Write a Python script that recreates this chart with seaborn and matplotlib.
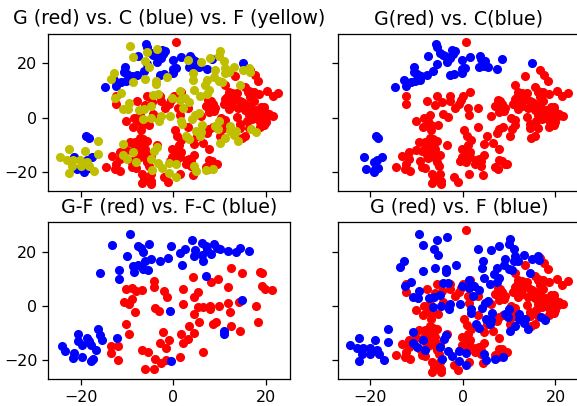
import matplotlib
matplotlib.use("Agg")
import matplotlib.pyplot as plt
import pandas as pd
import seaborn as sns

# G group
g_x = [0.6, 16.6, 17.6, 18.3, 13.4, 11.3, 15.6, 20.3, 22.7, 21.5, 12, 12.7, 11.7, 13.5, 14.5, 10.9, 12, 12.7,
       16.3, 17.4, 18.5, 16.7, 17.4, 15.6, 16.7, 16, 17.1, 18.1, 19.6, 19.9, 21.6, 20.5, 19.6, 18.8, 19.7, 18.7,
       16.3, 13.8, 14.5, 14.5, 10.4, 11.3, 11.3, 10.6, 10.2, 15.5, 14.8, 16.3, 17.7,
       8.1, 7, 8.1, 8.8, 7.7, 6.1, 8.6, 7.7, 7.3, 3.2, 3.2, 1.1, 1.4, 1.6, 0.1, -0.4, -0.9, -1.8, -2.9, -2.7, -4.5,
       -5.6, -6.1, -7.8, -12.3, -12.4, -4.4, -3.2, -7.1, -8.5, -10.1, -7.6, -8.7, -6.8, -5.3, -7,
       -7.1, -9.4, -8.2, -5.6, -6.7, -8.3, -10.1, -11.6, -7.2, -6.3, -7.8, -3.5, -4.9, -13.2, -11.6, -9.2, -5.6,
       -5.2, -12.3, -14.5, -12.6, -11.4, -8.8, -8.1, -4.9, -6.7, -6.3, -6.7, -4.7, -4.7, -2, -1.1,
       0.3, 0.9, 1.7, 1.2, -0.2, 0.9, 1.6, -0.2, -0.7, 0.9, 0.6, 1.4, 2.7, 3.9, 3.4, 4.5, 4.3, 5.2, 4.6, 6.4, 7.8,
       7, 7.5, 7.7, 8.4, 9.1, 9.5,
       11.3, 12.4, 13.8, 14.9, 15.6, 14.1, 18, 19, 18.5, 20.8, 20, 17, 15.9, 16.9, 16.2,
       -8, -7, -6.5, -8.8, -7.5, -6, -5.9, 8.5, 9, 7.5, 0.5, 1.5, 0, 2.9, 3.9]
g_y = [27.9, 17.6, 15.9, 13.7, 15.2, 12.2, 11.2, 10, 9.1, 7.9, 9.4, 9.1, 7.6, 7, 6.3, 5.1, 3.3, 4.5,
       10, 9.4, 8.8, 7.6, 6.3, 5.1, 4.5, 2.7, 2.1, 1.5, 3.9, 2.1, 0.7, 0.5, -0.4, -1.6, -2.6, -3.4,
       -3.7, 0.2, -2.2, -3.7, 0, -0.7, -2.8, -4, -6.5, -6.5, -7.3, 0.9, 0,
       6.3, 4.5, 3.7, 2.7, 2.1, 0.6, -3.4, -4, -5.5, -3.4, 3.7, 3.7, 1.2, 9.5, 8.2, 6.6, 5.1, 3.7, 8.2, 6.1, 5.7,
       8.2, 4.9, 6.3, 8.2, 5.1, 1.5, 0.2, 0.9, 0, -1.3, -1, -3.2, -2.8, -2.8, -4.6,
       -7.3, -8.9, -8.9, -8.5, -9.5, -11, -11.7, -12.6, -12, -13.2, -13.8, -10.1, -13.8, -13.9, -15, -15.9, -16.2,
       -17.8, -16.8, -18, -18.7, -19.5, -18, -18.4, -20.7, -20.5, -22.3, -24.1, -23.2, -24.4, -21.7, -23.5,
       -4.6, -6.8, -8.3, -10.1, -11.3, -12, -12.6, -14.4, -16, -14.1, -16.2, -20.5, -16.8, -17.7, -15, -13.5,
       -21.1, -6.6, -9.5, -9.3, -11.6, -18, -18.9, -15.6, -15.9, -17.1, -16.8,
       7, 6, 9, 6, 3, 3.5, 3, 4, 0.3, 1.5, -1.5, -0.5, -1.3, 8, 9.5,
       -10, -11, -7.9, -12, -14.7, -11.5, -15, 5.2, 3.8, 6.5, -13, -14.5, -15.5, -15.5, -16]

# C group
c_x = [-5.8, -5.6, -4.9, -4.4, -3.8, -7.6, -2.4, -1.8, -2.2, -2.7, -3.5, -5.6, -0.1, 1.6, 3.7, 4, 4.8, 3.4, 4.5,
       5.5, 7.3, 8.4, 15, -10.5, -10.6, -6.4, 0.5, -0.1, -0.1, -2, -2.9, -7.8, -9, -9.9, -9.2, -10.3, -11.2, -12.8,
       -12.4, -14.7, -18.9, -18.3, -21.4, -17.6, -18.6, -19.3, -18.3, -19.3, -20.9, -19.1]
c_y = [27.1, 26.1, 24, 23, 22.8, 22.8, 24.9, 24.4, 23.4, 22, 20.4, 19.8, 21.3, 22.2, 22.8, 21.6, 21, 18.8, 19.1,
       18.5, 17.9, 21.6, 20.1, 18.5, 16.7, 17.3, 18.3, 17.9, 16.3, 16.1, 15.7, 15.7, 15.5, 16.1, 13.9, 13.7, 13,
       13.9, 11.8, 11.2, -6.8, -7.3, -14.4, -14.4, -15.4, -16.2, -18.4, -19.9, -18.9, -18.7]

# F group
f_x = [-9.4, -8.6, -5.7, -3.5, -6.2, -5.3, -12.7, -13.5, -8.6, -6.1, -3.7, -3.7, -1.4, 3.3, 6, 7.9, 9.9, 10.1, 11,
       9, 11.3, 11.1, 12, 13.1, 15, 16.3, 16.5, 4.3, 4.2, 7.3, 8.8, 9.9, 10.6, 14.5, 6.8, 4.6, 7.7, 7.3, 5.9, 1.4,
       -0.2, 1.4, 2.5, 3.4, 2.1, -4.3, -3.3, -11.2, -12.6, -9.6, -10.8, -9.7, -7.3, -6.3, -4.9, -6.5, -4.7, -2.7,
       -3.1, -0.7, 1.7, 1.8, 5.5, 4.8, 4.1, 6.3, 10, 9.1, 9.7, 5, 6.1, 5.9, 12.2, 12.2, 13.5, 13.1, 16.8, 17.8, 14,
       11.3, 10.1, 2.8, 3.4, -10.8, -16.3, -3.6, -4.2, -8.6, -16.2, -19.1, -22.5, -24.5, -22.9, -21.6, -20.1, -20,
       -18.6, -18.1, -17.1, -21.9, -22.5, -10.9, -9.9, -8.1, -4.9, -3.2, -4.5, -2.4, -0.8, 0.6, -0.9, 0.7, 4.5, 5,
       7, 8.6]
f_y = [26.5, 22.5, 24.3, 25.2, 21, 18.6, 16.4, 14.2, 13, 14.1, 13.7, 12.5, 14.9, 21.1, 20.5, 22.1, 22.9, 24.7, 20.9,
       17.4, 18.2, 16.5, 16.7, 18.8, 17.4, 18.2, 17, 16.5, 13.9, 13.9, 14.9, 13.7, 13.1, 12.2, 11.9, 10.3, 10.4,
       8.8, 8.2, 9.7, 7.3, 6.6, 7.3, 6, 3.7, 8.4, 8.6, 9, 7.3, 5.5, 3.3, 3.1, 2.9, 3.3, 4.2, -0.4, -0.1, 0.6, -1.1,
       0.6, -1, -2.4, 1.8, 1.2, -0.6, -2.6, -1.2, -3.1, -4, -4.9, -5.3, -6.5, -3.1, -4.9, -4.9, -6.2, -4, -5.3, -8.6,
       -7.5, -9.3, -6.5, -7.9, -9.5, -8.4, -10.8, -12, -12.6, -13.3, -12.3, -11.6, -14.4, -15.4, -15.3, -15.4,
       -17.7, -16.3, -17.8, -19.7, -17.8, -20.3, -13.6, -15, -16.3, -15, -16.6, -19.3, -18.5, -16.6, -17.1, -20.3,
       -21.8, -17.8, -19.7, -19.3, -18.9]

# G-F difference
gf_x = [12.4, 14.8, 18.8, 19.3, 19.1, 19.9, 21.4, 4.2, 8.2, 9.6, 11.8, -4.2, -4.2, -10.1, -8.8, -8.1, -6.8, -1.9,
        -1.3, 2.2, 5.3, 4.5, -10.6, -9.5, -8.8, -8.2, -3.9, -3.1, 2.2, 5.3, 6.5, 7.9, 8, 4.5, 9.9, 11.9, 12.3, 14.2,
        17.8, 18.3, 9.2, 8.6, 5.5, 3.5, 12.5, 14.5, -10.2, -9.6, -2.2, 1.7, 4.5, -0.9, -2.9, -1.6, 3.2, 2.2, -13.5,
        -11.9, -13.5, -11.9, -6.8, -5.5, 6.5, -4, -2.7, -1.6, 1.4, -6, -4.2]
gf_y = [13.9, 12, 12.6, 12.1, 7.5, 6.4, 6, 10.5, 8.7, 10, 7.1, 9.3, 7, 6.4, 6.5, 5.5, 5.9, 5.5, 3.4, 6.2, 5, 3.5,
        1.5, 0.6, 2.6, -2.1, -0.6, -2, 0.9, -0.4, -0.4, -0.1, -1, -2.8, -0.1, 1.2, -2.2, 1.3, -0.1, -5.9, -5.9, -6.6,
        -5.7, -7.5, -7.5, -9, -6.6, -10.4, -9.4, -10.3, -9.9, -12.6, -13.7, -15.4, -12.1, -13.4, -14.5, -14.7, -17.4,
        -19.7, -16.3, -17, -16.7, -19.6, -20.9, -19.7, -18.8, -23.2, -23.1]

# F-C difference
fc_x = [-9.4, -13.2, -7.7, -7, -6.5, -5.3, -9.9, -0.5, 1.4, 2.5, 4, 6.3, 7, 4.7, 4.4, 6.3, 7.4, 8.1, 8.8, 9.5, 10.1,
        11.9, 13.5, 14.5, 16.3, 6.5, 1.9, -1.1, -2.8, -4.7, -6, -8.6, -7.6, -6.5, -5.5, -8.4, -11.7, -11.7, -15.8, 7,
        14.8, -0.6, 10.9, 11, -16.3, -15.8, -15.3, -12.1, -20.6, -18.6, -18.1, -17.8, -20.5, -19.8, -24, -23.4,
        -21.4, -21.7, -19.8, -16.7, -17.4, -17.8, -0.4]
fc_y = [26.5, 22.5, 21.9, 21.4, 20, 22.7, 18.5, 22.1, 19.4, 20.8, 24.3, 23.3, 22.1, 20.5, 18.3, 18.9, 20.7, 19.2,
        22.9, 21.3, 20.8, 20.2, 19.8, 21.4, 20.3, 16.5, 15, 17.5, 16.7, 17.2, 16.5, 14.8, 14.9, 13.7, 13.1, 12.5,
        13.2, 9.8, 12, 11, 2.1, -1.8, -9.2, -10.1, -8.3, -10.6, -12.3, -11.7, -10.1, -11.6, -13, -14.2, -12.8, -14.3,
        -14.8, -16.5, -17.2, -19.2, -18.7, -16.1, -19.3, -20.3, -20.2]

sns.set_style("ticks", {"axes.edgecolor": "k", "text.color": "k", "xtick.color": "k", "ytick.color": "k"})
plt.rcParams["font.family"] = "DejaVu Sans"

# right column runs a little past the edge of the picture, so no right spine there
fig, axes = plt.subplots(2, 2, sharex=True, sharey=True, figsize=(577 / 114, 406 / 114), dpi=114)
fig.subplots_adjust(left=48.3 / 577, right=579.5 / 577, top=1 - 34 / 406, bottom=1 - 379 / 406,
                    wspace=0.2, hspace=0.2)


def scatter(ax, xs, ys, color):
    # one colour per group, no edge round the dots
    df = pd.DataFrame({"x": xs, "y": ys})
    sns.scatterplot(data=df, x="x", y="y", color=color, s=33, linewidth=0, ax=ax)


scatter(axes[0, 0], g_x, g_y, "r")
scatter(axes[0, 0], c_x, c_y, "b")
scatter(axes[0, 0], f_x, f_y, "y")
axes[0, 0].set_title("G (red) vs. C (blue) vs. F (yellow)", fontsize=12)

scatter(axes[0, 1], g_x, g_y, "r")
scatter(axes[0, 1], c_x, c_y, "b")
axes[0, 1].set_title("G(red) vs. C(blue)", fontsize=12)

scatter(axes[1, 0], gf_x, gf_y, "r")
scatter(axes[1, 0], fc_x, fc_y, "b")
axes[1, 0].set_title("G-F (red) vs. F-C (blue)", fontsize=12)

scatter(axes[1, 1], g_x, g_y, "r")
scatter(axes[1, 1], f_x, f_y, "b")
axes[1, 1].set_title("G (red) vs. F (blue)", fontsize=12)

for ax in axes.flat:
    ax.set_xlim(-27, 25.2)
    ax.set_ylim(-26.8, 30.8)
    ax.set_xticks([-20, 0, 20])
    ax.set_yticks([-20, 0, 20])
    ax.set_xlabel("")
    ax.set_ylabel("")
    ax.tick_params(labelsize=10, length=3.5, width=0.8)
    for spine in ax.spines.values():
        spine.set_visible(True)
        spine.set_linewidth(0.8)

fig.savefig("out.png", dpi=114)
